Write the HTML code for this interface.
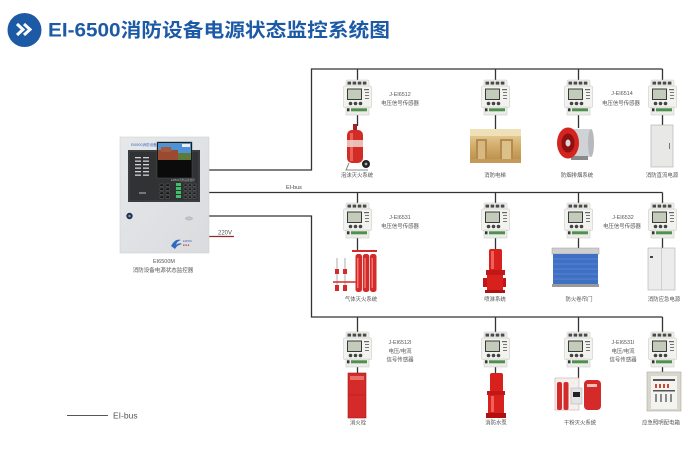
<!DOCTYPE html>
<html><head><meta charset="utf-8">
<style>
html,body{margin:0;padding:0;background:#fff;}
body{width:693px;height:449px;overflow:hidden;}
svg{display:block;}
text{font-family:"Liberation Sans","Noto Sans CJK SC",sans-serif;}
</style></head>
<body>
<svg width="693" height="449" viewBox="0 0 693 449" xmlns="http://www.w3.org/2000/svg">
<defs>
 <g id="s">
  <rect x="3" y="0" width="23" height="7" rx="1" fill="#efefeb" stroke="#c6c6c2" stroke-width="0.5"/>
  <rect x="4.5" y="1.6" width="3.6" height="3" fill="#4a4a4a"/>
  <rect x="9.6" y="1.6" width="3.6" height="3" fill="#4a4a4a"/>
  <rect x="14.7" y="1.6" width="3.6" height="3" fill="#4a4a4a"/>
  <rect x="19.8" y="1.6" width="3.6" height="3" fill="#4a4a4a"/>
  <rect x="0.5" y="6" width="28" height="21.5" rx="1" fill="#f2f2ef" stroke="#c2c2be" stroke-width="0.5"/>
  <rect x="4" y="8.5" width="15" height="11.5" fill="#3a3a3a"/>
  <rect x="5" y="9.5" width="13" height="9.5" fill="#c3cbbb"/>
  <rect x="21" y="9" width="5" height="1.2" fill="#666"/>
  <rect x="22" y="12" width="4" height="1" fill="#777"/>
  <rect x="22" y="15" width="4" height="1" fill="#777"/>
  <rect x="22" y="18" width="4" height="1" fill="#777"/>
  <circle cx="7.5" cy="23.5" r="1.8" fill="#444"/>
  <circle cx="12.5" cy="23.5" r="1.8" fill="#444"/>
  <circle cx="17.5" cy="23.5" r="1.8" fill="#444"/>
  <rect x="3" y="27" width="23" height="8" fill="#ecece8" stroke="#c6c6c2" stroke-width="0.5"/>
  <rect x="4" y="28.3" width="2.5" height="3" fill="#333"/>
  <rect x="8" y="28.3" width="16" height="3" fill="#4f8f4f"/>
 </g>
 <linearGradient id="elev" x1="0" y1="0" x2="0" y2="1">
  <stop offset="0" stop-color="#ecd9a8"/><stop offset="0.5" stop-color="#d2ad6a"/><stop offset="1" stop-color="#b88a48"/>
 </linearGradient>
 <linearGradient id="box" x1="0" y1="0" x2="1" y2="1">
  <stop offset="0" stop-color="#e6e8ea"/><stop offset="1" stop-color="#d9dbde"/>
 </linearGradient>
</defs>

<!-- Title -->
<circle cx="24.5" cy="30" r="17" fill="#1c5aa6"/>
<polyline points="17,24 23,29.5 17,35" fill="none" stroke="#fff" stroke-width="3"/>
<polyline points="24,24 30,29.5 24,35" fill="none" stroke="#fff" stroke-width="3"/>
<text x="48" y="36.5" font-size="19" font-weight="bold" fill="#1d5aa6" textLength="342" lengthAdjust="spacingAndGlyphs">EI-6500消防设备电源状态监控系统图</text>

<!-- Bus lines -->
<g stroke="#333" stroke-width="1.3" fill="none">
 <path d="M209,170 H311.5 V69 H662.5"/>
 <path d="M209,192.5 H662.5"/>
 <path d="M209,216 H311.5 V317 H662.5"/>
 <!-- drops top -->
 <path d="M357.5,69 V80 M495.5,69 V80 M578.5,69 V80 M662.5,69 V80"/>
 <path d="M357.5,115 V126 M495.5,115 V129 M578.5,115 V128 M662.5,115 V125"/>
 <!-- drops mid -->
 <path d="M357.5,192.5 V203 M495.5,192.5 V203 M578.5,192.5 V203 M662.5,192.5 V203"/>
 <path d="M357.5,238 V251 M495.5,238 V249 M578.5,238 V248 M662.5,238 V248"/>
 <!-- drops bottom -->
 <path d="M357.5,317 V332 M495.5,317 V332 M578.5,317 V332 M662.5,317 V332"/>
 <path d="M357.5,367 V373 M495.5,367 V373 M578.5,367 V378 M662.5,367 V372"/>
</g>
<text x="286" y="189" font-size="5.5" fill="#444">EI-bus</text>

<!-- 220V -->
<line x1="209" y1="236.5" x2="234" y2="236.5" stroke="#8a2a2a" stroke-width="1.2"/>
<text x="218" y="234.5" font-size="6" fill="#555">220V</text>

<!-- Controller -->
<rect x="120" y="137" width="89" height="116" fill="url(#box)" stroke="#cfd1d4" stroke-width="0.6"/>
<text x="131" y="146" font-size="3.6" fill="#3c6cc0">EI6500消防设备电源状态监控器</text>
<rect x="128" y="150" width="72" height="52" fill="#3a3d40"/>
<rect x="130" y="152" width="68" height="48" fill="#303234"/>
<g fill="#cfd2d6">
 <rect x="135" y="157" width="6" height="1.3"/><rect x="143" y="157" width="6" height="1.3"/>
 <rect x="135" y="160.5" width="6" height="1.3"/><rect x="143" y="160.5" width="6" height="1.3"/>
 <rect x="135" y="164" width="6" height="1.3"/><rect x="143" y="164" width="6" height="1.3"/>
 <rect x="135" y="167.5" width="6" height="1.3"/><rect x="143" y="167.5" width="6" height="1.3"/>
 <rect x="135" y="171" width="6" height="1.3"/><rect x="143" y="171" width="6" height="1.3"/>
 <rect x="135" y="174.5" width="6" height="1.3"/><rect x="143" y="174.5" width="6" height="1.3"/>
</g>
<rect x="139" y="192" width="7" height="2" fill="#777"/>
<!-- screen -->
<rect x="157" y="142" width="35" height="36" fill="#0b0b0b" stroke="#555" stroke-width="0.5"/>
<rect x="158" y="143" width="33" height="17" fill="#4d93d6"/>
<rect x="158" y="150" width="20" height="10" fill="#9a4a30"/>
<rect x="161" y="147" width="10" height="5" fill="#a85838"/>
<rect x="178" y="153" width="13" height="7" fill="#5d7a3a"/>
<rect x="182" y="144" width="8" height="3" fill="#e8eef4"/>
<text x="171" y="181" font-size="2.6" fill="#bbb">EI6500消防设备监控</text>
<!-- keypad -->
<g fill="#111" stroke="#888" stroke-width="0.3">
 <rect x="160" y="184" width="3.5" height="2.2"/><rect x="166" y="184" width="3.5" height="2.2"/>
 <rect x="160" y="188" width="3.5" height="2.2"/><rect x="166" y="188" width="3.5" height="2.2"/>
 <rect x="160" y="192" width="3.5" height="2.2"/><rect x="166" y="192" width="3.5" height="2.2"/>
 <rect x="160" y="196" width="3.5" height="2.2"/><rect x="166" y="196" width="3.5" height="2.2"/>
</g>
<g fill="#3ec06a">
 <rect x="176" y="183" width="5" height="3"/><rect x="176" y="187" width="5" height="3"/>
 <rect x="176" y="191" width="5" height="3"/><rect x="176" y="195" width="5" height="3"/>
</g>
<g fill="#1a1a1a" stroke="#999" stroke-width="0.3">
 <rect x="184" y="184" width="3" height="2.2"/><rect x="188.5" y="184" width="3" height="2.2"/><rect x="193" y="184" width="3" height="2.2"/>
 <rect x="184" y="188" width="3" height="2.2"/><rect x="188.5" y="188" width="3" height="2.2"/><rect x="193" y="188" width="3" height="2.2"/>
 <rect x="184" y="192" width="3" height="2.2"/><rect x="188.5" y="192" width="3" height="2.2"/><rect x="193" y="192" width="3" height="2.2"/>
 <rect x="184" y="196" width="3" height="2.2"/><rect x="188.5" y="196" width="3" height="2.2"/><rect x="193" y="196" width="3" height="2.2"/>
</g>
<circle cx="129.5" cy="216" r="3.2" fill="#22324e"/>
<circle cx="129.5" cy="216" r="1.3" fill="#7d8ea8"/>
<ellipse cx="189" cy="218.5" rx="3.5" ry="1.6" fill="#c4c6c9" stroke="#999" stroke-width="0.4"/>
<path d="M171,246 q4,-8 10,-6 q-4,1 -5,5 q3,-3 6,-1 q-5,1 -7,5 z" fill="#2f6ac0"/>
<text x="183" y="242" font-size="2.8" fill="#3c6cc0">EI6500</text>
<text x="183" y="246" font-size="2.6" fill="#c03030">■ ■ ■</text>
<text x="164" y="263" font-size="5.5" fill="#555" text-anchor="middle">EI6500M</text>
<text x="163" y="272" font-size="5.5" fill="#555" text-anchor="middle">消防设备电源状态监控器</text>

<!-- Sensors -->
<use href="#s" x="343" y="80"/><use href="#s" x="481" y="80"/><use href="#s" x="564" y="80"/><use href="#s" x="648" y="80"/>
<use href="#s" x="343" y="203"/><use href="#s" x="481" y="203"/><use href="#s" x="564" y="203"/><use href="#s" x="648" y="203"/>
<use href="#s" x="343" y="332"/><use href="#s" x="481" y="332"/><use href="#s" x="564" y="332"/><use href="#s" x="648" y="332"/>

<!-- Sensor labels -->
<g font-size="5.4" fill="#555" text-anchor="middle">
 <text x="400" y="96">J-EI6512</text><text x="400" y="105">电压信号传感器</text>
 <text x="622" y="95">J-EI6514</text><text x="621" y="105">电压信号传感器</text>
 <text x="400" y="219">J-EI6531</text><text x="400" y="228">电压信号传感器</text>
 <text x="623" y="219">J-EI6532</text><text x="622" y="228">电压信号传感器</text>
 <text x="400" y="344">J-EI6512I</text><text x="400" y="353">电压/电流</text><text x="400" y="361.5">信号传感器</text>
 <text x="623" y="344">J-EI6531I</text><text x="623" y="353">电压/电流</text><text x="623" y="361.5">信号传感器</text>
</g>

<!-- Device labels -->
<g font-size="5.4" fill="#555" text-anchor="middle">
 <text x="357" y="177">泡沫灭火系统</text>
 <text x="495" y="177">消防电梯</text>
 <text x="577" y="177">防烟排烟系统</text>
 <text x="662" y="177">消防直流电源</text>
 <text x="361" y="301">气体灭火系统</text>
 <text x="495" y="301">喷淋系统</text>
 <text x="579" y="301">防火卷帘门</text>
 <text x="664" y="301">消防应急电源</text>
 <text x="358" y="424.5">消火栓</text>
 <text x="496" y="424.5">消防水泵</text>
 <text x="580" y="424.5">干粉灭火系统</text>
 <text x="661" y="424.5">应急照明配电箱</text>
</g>

<!-- Top1: foam cart -->
<rect x="353" y="124" width="4" height="7" fill="#a82020"/>
<rect x="347" y="130" width="16" height="33" rx="5" fill="#d32b25"/>
<rect x="350" y="133" width="3" height="28" fill="#e8625a"/>
<rect x="347" y="140" width="16" height="7" fill="#efd6cf" opacity="0.85"/>
<path d="M349,163 L346,170 H368" stroke="#888" stroke-width="1" fill="none"/>
<circle cx="366" cy="164" r="4" fill="#222"/>
<circle cx="366" cy="164" r="1.4" fill="#aaa"/>

<!-- Top2: elevator -->
<rect x="470" y="129" width="51" height="34" fill="url(#elev)"/>
<rect x="470" y="129" width="51" height="7" fill="#f0e0b8"/>
<rect x="476" y="139" width="11" height="20" fill="#b48a50"/>
<rect x="478" y="141" width="7" height="18" fill="#d6b880"/>
<rect x="500" y="139" width="13" height="20" fill="#b48a50"/>
<rect x="502" y="141" width="9" height="18" fill="#dcc08a"/>
<rect x="470" y="159" width="51" height="4" fill="#c49a58"/>

<!-- Top3: fan -->
<rect x="567" y="129" width="25" height="28" rx="3" fill="#cfd3d6"/>
<ellipse cx="591" cy="143" rx="3" ry="14" fill="#b6babe"/>
<rect x="571" y="156" width="17" height="4" fill="#8a8a8a"/>
<ellipse cx="568" cy="143" rx="11" ry="15.5" fill="#d42420"/>
<ellipse cx="568" cy="143" rx="6.5" ry="9.5" fill="#8e1010"/>
<ellipse cx="568" cy="143" rx="2.5" ry="3.5" fill="#d9d9d9"/>

<!-- Top4: cabinet -->
<rect x="651" y="125" width="22" height="42" fill="#e8e8e6" stroke="#aaa" stroke-width="0.6"/>
<rect x="669" y="143" width="1" height="6" fill="#777"/>

<!-- Mid1: gas -->
<line x1="352" y1="251" x2="377" y2="251" stroke="#d42a2a" stroke-width="2"/>
<g fill="#d42a2a">
 <rect x="355.5" y="254" width="6.5" height="38" rx="2.5"/>
 <rect x="362.8" y="254" width="6.5" height="38" rx="2.5"/>
 <rect x="370" y="254" width="6.5" height="38" rx="2.5"/>
</g>
<g fill="#f07a70"><rect x="357" y="258" width="1.5" height="30"/><rect x="364.3" y="258" width="1.5" height="30"/><rect x="371.5" y="258" width="1.5" height="30"/></g>
<g stroke="#999" stroke-width="0.8"><line x1="337" y1="258" x2="337" y2="290"/><line x1="345" y1="258" x2="345" y2="290"/></g>
<line x1="333" y1="282" x2="356" y2="282" stroke="#d42a2a" stroke-width="1.5"/>
<g fill="#d42a2a"><rect x="335" y="269" width="4" height="5"/><rect x="343" y="269" width="4" height="5"/><rect x="335" y="285" width="4" height="6"/><rect x="343" y="285" width="4" height="6"/></g>

<!-- Mid2: pump -->
<rect x="489" y="249" width="13" height="22" rx="2" fill="#d8201c"/>
<rect x="491" y="251" width="3" height="18" fill="#f0605a"/>
<rect x="486" y="270" width="19" height="5" fill="#c01818"/>
<rect x="487" y="275" width="16" height="15" fill="#d8201c"/>
<rect x="483" y="278" width="4" height="9" fill="#c01818"/>
<rect x="503" y="278" width="3" height="9" fill="#c01818"/>
<rect x="485" y="290" width="20" height="3" fill="#b01010"/>

<!-- Mid3: shutter -->
<rect x="552" y="248" width="47" height="6" fill="#cfcfcf" stroke="#9a9a9a" stroke-width="0.5"/>
<rect x="553" y="254" width="45" height="30" fill="#3f70c4"/>
<g stroke="#6f97d8" stroke-width="0.5"><line x1="553" y1="259" x2="598" y2="259"/><line x1="553" y1="264" x2="598" y2="264"/><line x1="553" y1="269" x2="598" y2="269"/><line x1="553" y1="274" x2="598" y2="274"/><line x1="553" y1="279" x2="598" y2="279"/></g>
<rect x="552" y="284" width="47" height="3" fill="#9a9a9a"/>

<!-- Mid4: cabinet -->
<rect x="648" y="248" width="27" height="42" fill="#ececec" stroke="#b0b0b0" stroke-width="0.6"/>
<line x1="661.5" y1="248" x2="661.5" y2="290" stroke="#bbb" stroke-width="0.6"/>
<rect x="650" y="256" width="3" height="2" fill="#444"/>

<!-- Bot1: hydrant -->
<rect x="348" y="373" width="18" height="45" fill="#d42a2a" stroke="#a81818" stroke-width="0.6"/>
<rect x="350" y="376" width="14" height="4" fill="#e8706a"/>
<line x1="349" y1="395" x2="365" y2="395" stroke="#a81818" stroke-width="0.5"/>

<!-- Bot2: pump -->
<rect x="490" y="373" width="13" height="19" rx="2" fill="#d8201c"/>
<rect x="487" y="391" width="18" height="4" fill="#c01818"/>
<rect x="488" y="395" width="16" height="18" fill="#d8201c"/>
<rect x="491" y="396" width="3" height="16" fill="#f0605a"/>
<rect x="486" y="413" width="20" height="5" fill="#b01010"/>

<!-- Bot3: dry powder -->
<rect x="555" y="378" width="24" height="32" fill="#f4f0ee" stroke="#d0a8a8" stroke-width="0.6"/>
<rect x="557" y="382" width="5" height="28" rx="2" fill="#d42a2a"/>
<rect x="563.5" y="382" width="5" height="28" rx="2" fill="#d42a2a"/>
<rect x="571" y="388" width="11" height="16" fill="#e4e4e4" stroke="#999" stroke-width="0.4"/>
<rect x="573" y="392" width="7" height="5" fill="#222"/>
<rect x="584" y="380" width="17" height="30" rx="4" fill="#d42a2a"/>
<rect x="587" y="384" width="10" height="3" fill="#f2c0b8"/>

<!-- Bot4: distribution -->
<rect x="647" y="372" width="34" height="39" fill="#d9d6cc" stroke="#aaa" stroke-width="0.6"/>
<rect x="651" y="376" width="26" height="33" fill="#f3f3f0"/>
<g fill="#555"><rect x="653" y="379" width="22" height="2"/><rect x="653" y="390" width="22" height="1.5"/></g>
<g fill="#c84a3a"><rect x="655" y="384" width="2" height="4"/><rect x="659" y="384" width="2" height="4"/><rect x="663" y="384" width="2" height="4"/><rect x="667" y="384" width="2" height="4"/></g>
<g fill="#8a8a8a"><rect x="655" y="394" width="2" height="8"/><rect x="660" y="394" width="2" height="8"/><rect x="665" y="394" width="2" height="8"/><rect x="670" y="394" width="2" height="8"/></g>

<!-- Legend -->
<line x1="67" y1="415.5" x2="108" y2="415.5" stroke="#555" stroke-width="1"/>
<text x="113" y="418.5" font-size="8.5" fill="#555">EI-bus</text>
</svg>
</body></html>
